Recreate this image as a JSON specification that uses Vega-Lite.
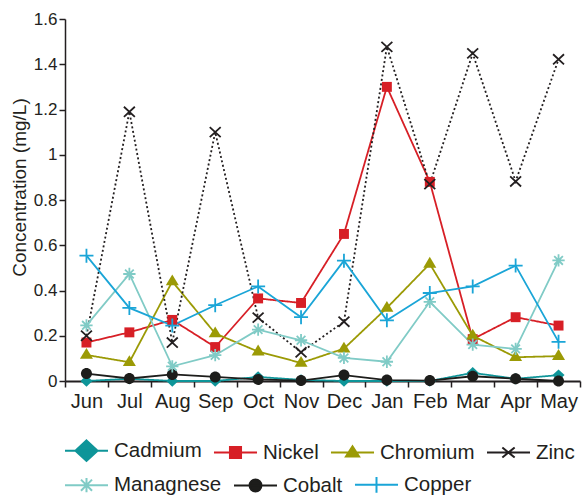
{
  "$schema": "https://vega.github.io/schema/vega-lite/v6.json",
  "width": 515,
  "height": 362,
  "autosize": "none",
  "padding": {"left": 65, "top": 19, "right": 3, "bottom": 114},
  "background": "white",
  "config": {
    "view": {"stroke": null},
    "font": "Liberation Sans",
    "axis": {"domainColor": "#231f20", "tickColor": "#231f20", "labelColor": "#231f20", "titleColor": "#231f20", "grid": false, "labelFont": "Liberation Sans", "titleFont": "Liberation Sans"},
    "legend": {
      "title": null, "orient": "none", "direction": "horizontal",
      "columnPadding": 7, "padding": 0,
      "symbolSize": 1681, "symbolStrokeWidth": 2,
      "labelFontSize": 20.5, "labelOffset": 6, "labelColor": "#231f20", "labelFont": "Liberation Sans", "labelLimit": 300
    }
  },
  "data": {
    "values": [
      {"m": "Jun", "s": "Cadmium", "v": 0}, {"m": "Jul", "s": "Cadmium", "v": 0.01}, {"m": "Aug", "s": "Cadmium", "v": 0}, {"m": "Sep", "s": "Cadmium", "v": 0}, {"m": "Oct", "s": "Cadmium", "v": 0.018}, {"m": "Nov", "s": "Cadmium", "v": 0.005}, {"m": "Dec", "s": "Cadmium", "v": 0}, {"m": "Jan", "s": "Cadmium", "v": 0}, {"m": "Feb", "s": "Cadmium", "v": 0}, {"m": "Mar", "s": "Cadmium", "v": 0.036}, {"m": "Apr", "s": "Cadmium", "v": 0.01}, {"m": "May", "s": "Cadmium", "v": 0.026},
      {"m": "Jun", "s": "Nickel", "v": 0.17}, {"m": "Jul", "s": "Nickel", "v": 0.215}, {"m": "Aug", "s": "Nickel", "v": 0.27}, {"m": "Sep", "s": "Nickel", "v": 0.15}, {"m": "Oct", "s": "Nickel", "v": 0.365}, {"m": "Nov", "s": "Nickel", "v": 0.345}, {"m": "Dec", "s": "Nickel", "v": 0.65}, {"m": "Jan", "s": "Nickel", "v": 1.3}, {"m": "Feb", "s": "Nickel", "v": 0.88}, {"m": "Mar", "s": "Nickel", "v": 0.185}, {"m": "Apr", "s": "Nickel", "v": 0.282}, {"m": "May", "s": "Nickel", "v": 0.245},
      {"m": "Jun", "s": "Chromium", "v": 0.115}, {"m": "Jul", "s": "Chromium", "v": 0.083}, {"m": "Aug", "s": "Chromium", "v": 0.44}, {"m": "Sep", "s": "Chromium", "v": 0.21}, {"m": "Oct", "s": "Chromium", "v": 0.13}, {"m": "Nov", "s": "Chromium", "v": 0.08}, {"m": "Dec", "s": "Chromium", "v": 0.143}, {"m": "Jan", "s": "Chromium", "v": 0.323}, {"m": "Feb", "s": "Chromium", "v": 0.518}, {"m": "Mar", "s": "Chromium", "v": 0.2}, {"m": "Apr", "s": "Chromium", "v": 0.105}, {"m": "May", "s": "Chromium", "v": 0.11},
      {"m": "Jun", "s": "Zinc", "v": 0.2}, {"m": "Jul", "s": "Zinc", "v": 1.19}, {"m": "Aug", "s": "Zinc", "v": 0.17}, {"m": "Sep", "s": "Zinc", "v": 1.1}, {"m": "Oct", "s": "Zinc", "v": 0.28}, {"m": "Nov", "s": "Zinc", "v": 0.127}, {"m": "Dec", "s": "Zinc", "v": 0.262}, {"m": "Jan", "s": "Zinc", "v": 1.477}, {"m": "Feb", "s": "Zinc", "v": 0.87}, {"m": "Mar", "s": "Zinc", "v": 1.448}, {"m": "Apr", "s": "Zinc", "v": 0.882}, {"m": "May", "s": "Zinc", "v": 1.422},
      {"m": "Jun", "s": "Managnese", "v": 0.246}, {"m": "Jul", "s": "Managnese", "v": 0.473}, {"m": "Aug", "s": "Managnese", "v": 0.065}, {"m": "Sep", "s": "Managnese", "v": 0.114}, {"m": "Oct", "s": "Managnese", "v": 0.227}, {"m": "Nov", "s": "Managnese", "v": 0.18}, {"m": "Dec", "s": "Managnese", "v": 0.102}, {"m": "Jan", "s": "Managnese", "v": 0.085}, {"m": "Feb", "s": "Managnese", "v": 0.35}, {"m": "Mar", "s": "Managnese", "v": 0.161}, {"m": "Apr", "s": "Managnese", "v": 0.142}, {"m": "May", "s": "Managnese", "v": 0.533},
      {"m": "Jun", "s": "Cobalt", "v": 0.033}, {"m": "Jul", "s": "Cobalt", "v": 0.011}, {"m": "Aug", "s": "Cobalt", "v": 0.029}, {"m": "Sep", "s": "Cobalt", "v": 0.018}, {"m": "Oct", "s": "Cobalt", "v": 0.007}, {"m": "Nov", "s": "Cobalt", "v": 0.002}, {"m": "Dec", "s": "Cobalt", "v": 0.026}, {"m": "Jan", "s": "Cobalt", "v": 0.004}, {"m": "Feb", "s": "Cobalt", "v": 0.002}, {"m": "Mar", "s": "Cobalt", "v": 0.021}, {"m": "Apr", "s": "Cobalt", "v": 0.01}, {"m": "May", "s": "Cobalt", "v": 0},
      {"m": "Jun", "s": "Copper", "v": 0.554}, {"m": "Jul", "s": "Copper", "v": 0.323}, {"m": "Aug", "s": "Copper", "v": 0.245}, {"m": "Sep", "s": "Copper", "v": 0.335}, {"m": "Oct", "s": "Copper", "v": 0.418}, {"m": "Nov", "s": "Copper", "v": 0.282}, {"m": "Dec", "s": "Copper", "v": 0.532}, {"m": "Jan", "s": "Copper", "v": 0.268}, {"m": "Feb", "s": "Copper", "v": 0.389}, {"m": "Mar", "s": "Copper", "v": 0.418}, {"m": "Apr", "s": "Copper", "v": 0.51}, {"m": "May", "s": "Copper", "v": 0.173}
    ]
  },
  "encoding": {
    "x": {
      "field": "m", "type": "nominal",
      "sort": ["Jun", "Jul", "Aug", "Sep", "Oct", "Nov", "Dec", "Jan", "Feb", "Mar", "Apr", "May"],
      "scale": {"paddingInner": 0, "paddingOuter": 0},
      "axis": {"title": null, "labelAngle": 0, "labelFontSize": 20, "tickBand": "extent", "tickSize": 6, "tickWidth": 1.5, "domainWidth": 2, "labelPadding": 4}
    },
    "y": {
      "field": "v", "type": "quantitative",
      "scale": {"domain": [0, 1.6], "nice": false},
      "axis": {"title": "Concentration (mg/L)", "titleFontSize": 19, "titleFontWeight": "normal", "titlePadding": 4, "titleY": 168, "values": [0, 0.2, 0.4, 0.6, 0.8, 1, 1.2, 1.4, 1.6], "format": "~g", "labelFontSize": 17, "tickSize": 6, "tickWidth": 1.5, "domainWidth": 1.5, "labelPadding": 2}
    }
  },
  "layer": [
    {
      "transform": [{"filter": {"field": "s", "oneOf": ["Cadmium", "Nickel", "Chromium", "Zinc"]}}],
      "mark": {"type": "line", "strokeWidth": 1.8},
      "encoding": {
        "color": {
          "field": "s", "type": "nominal",
          "scale": {"domain": ["Cadmium", "Nickel", "Chromium", "Zinc"], "range": ["#0e9599", "#d71f26", "#9b9a05", "#231f20"]},
          "legend": {
            "legendX": 0, "legendY": 410,
            "encode": {"symbols": {"update": {
              "shape": {"signal": "datum.value === 'Cadmium' ? 'M-1.05,0H1.05M0,-0.5L0.54,0L0,0.5L-0.54,0Z' : datum.value === 'Nickel' ? 'M-1.05,0H1.05M-0.27,-0.27H0.27V0.27H-0.27Z' : datum.value === 'Chromium' ? 'M-1.05,0H1.05M-0.32,0.2L0,-0.3L0.32,0.2Z' : 'M-1.05,0H1.05M-0.3,-0.24L0.3,0.24M-0.3,0.24L0.3,-0.24'"},
              "fill": {"signal": "datum.value === 'Zinc' ? 'transparent' : scale('color', datum.value)"},
              "strokeWidth": {"value": 2},
              "size": {"value": 1681},
              "opacity": {"value": 1}
            }}}
          }
        },
        "strokeDash": {"condition": {"test": "datum.s === 'Zinc'", "value": [2, 2.5]}, "value": [1, 0]}
      }
    },
    {
      "transform": [{"filter": {"field": "s", "oneOf": ["Managnese", "Cobalt", "Copper"]}}],
      "mark": {"type": "line", "strokeWidth": 1.8},
      "encoding": {
        "stroke": {
          "field": "s", "type": "nominal",
          "scale": {"domain": ["Managnese", "Cobalt", "Copper"], "range": ["#80cbc6", "#1d1d1b", "#1aa5d7"]},
          "legend": {
            "legendX": 0, "legendY": 444,
            "encode": {"symbols": {"update": {
              "shape": {"signal": "datum.value === 'Managnese' ? 'M-1.05,0H1.05M0,-0.35V0.35M-0.27,-0.27L0.27,0.27M-0.27,0.27L0.27,-0.27' : datum.value === 'Cobalt' ? 'M-1.05,0H1.05M-0.29,0A0.29,0.29,0,1,0,0.29,0A0.29,0.29,0,1,0,-0.29,0Z' : 'M-1.05,0H1.05M0,-0.38V0.38'"},
              "fill": {"signal": "datum.value === 'Cobalt' ? scale('stroke', datum.value) : 'transparent'"},
              "strokeWidth": {"value": 2},
              "size": {"value": 1681},
              "opacity": {"value": 1}
            }}}
          }
        }
      }
    },
    {
      "transform": [{"filter": {"field": "s", "oneOf": ["Cadmium", "Nickel", "Chromium", "Cobalt"]}}],
      "mark": {"type": "point", "filled": true, "opacity": 1, "size": 196, "strokeWidth": 0},
      "encoding": {
        "fill": {"condition": [
          {"test": "datum.s === 'Cadmium'", "value": "#0e9599"},
          {"test": "datum.s === 'Nickel'", "value": "#d71f26"},
          {"test": "datum.s === 'Chromium'", "value": "#9b9a05"}
        ], "value": "#1d1d1b"},
        "shape": {"condition": [
          {"test": "datum.s === 'Cadmium'", "value": "M0,-0.82L0.86,0L0,0.82L-0.86,0Z"},
          {"test": "datum.s === 'Nickel'", "value": "M-0.71,-0.71H0.71V0.71H-0.71Z"},
          {"test": "datum.s === 'Chromium'", "value": "M-0.93,0.55L0,-1L0.93,0.55Z"}
        ], "value": "M-0.79,0A0.79,0.79,0,1,0,0.79,0A0.79,0.79,0,1,0,-0.79,0Z"}
      }
    },
    {
      "transform": [{"filter": {"field": "s", "oneOf": ["Zinc", "Managnese", "Copper"]}}],
      "mark": {"type": "point", "filled": false, "opacity": 1, "size": 196, "strokeWidth": 1.8},
      "encoding": {
        "stroke": {"condition": [
          {"test": "datum.s === 'Zinc'", "value": "#231f20"},
          {"test": "datum.s === 'Managnese'", "value": "#80cbc6"}
        ], "value": "#1aa5d7"},
        "shape": {"condition": [
          {"test": "datum.s === 'Zinc'", "value": "M-0.78,-0.72L0.78,0.72M-0.78,0.72L0.78,-0.72"},
          {"test": "datum.s === 'Managnese'", "value": "M0,-0.88V0.88M-0.88,0H0.88M-0.62,-0.62L0.62,0.62M-0.62,0.62L0.62,-0.62"}
        ], "value": "M-1,0H1M0,-1V1"}
      }
    }
  ]
}
